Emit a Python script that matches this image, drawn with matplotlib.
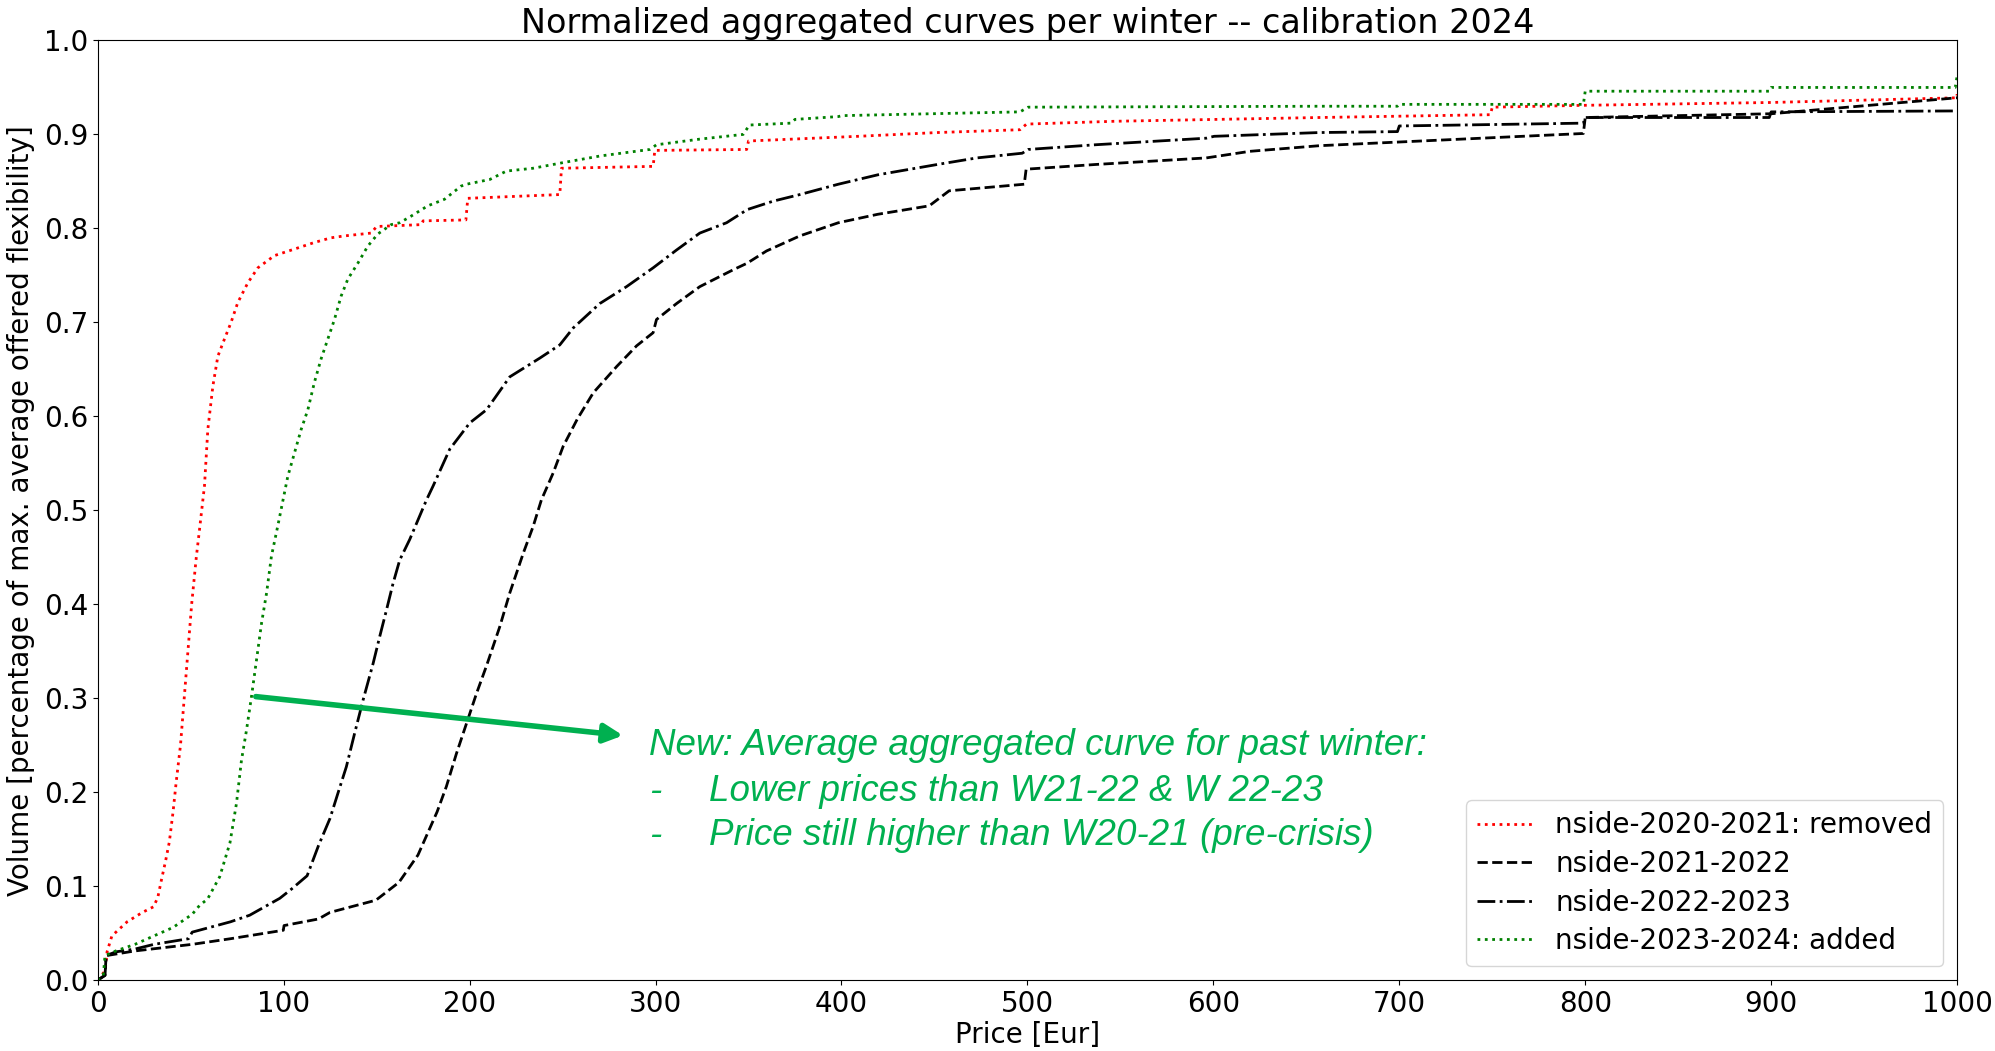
import matplotlib.pyplot as plt

# Aggregated curves (price in Eur, normalized volume)
price_2021 = [0, 2, 4, 5, 7.6, 15.8, 24, 30, 32.3, 34.4, 36.4, 38.5, 40.5, 42.2, 44.5, 46.5, 48.5, 50.5, 53,
              54.7, 57.4, 59.2, 61.9, 64.6, 68.1, 71.7, 75.3, 80.7, 86.1, 95, 105.8, 116.5, 125.5, 132.7, 147,
              150, 174, 175, 198, 199, 248.5, 249.4, 298.7, 299.6, 349, 350, 409, 451.5, 496, 499.5, 547, 657,
              749, 750, 800, 900, 1000, 1000]
vol_2021 = [0, 0.005, 0.01, 0.03, 0.047, 0.062, 0.072, 0.078, 0.088, 0.108, 0.126, 0.147, 0.179, 0.211, 0.25,
            0.30, 0.35, 0.40, 0.45, 0.479, 0.526, 0.586, 0.632, 0.664, 0.682, 0.700, 0.721, 0.742, 0.758, 0.771,
            0.778, 0.785, 0.790, 0.792, 0.795, 0.802, 0.804, 0.808, 0.809, 0.832, 0.836, 0.864, 0.866, 0.883,
            0.884, 0.893, 0.898, 0.902, 0.905, 0.911, 0.914, 0.918, 0.921, 0.929, 0.931, 0.934, 0.939, 0.943]

price_2122 = [0, 3.9, 4.5, 20, 50.8, 71.4, 99.8, 100.2, 118.7, 124.9, 149.6, 162, 172.2, 182.5, 187.5, 192.9,
              198.3, 203.7, 209, 216.2, 221.6, 228.8, 234.2, 238.6, 245, 250.3, 257.9, 266.5, 279.1, 289.8, 298.7,
              300.5, 311.3, 323.8, 341.8, 349.3, 359.7, 377.6, 398.3, 419.5, 447.2, 457.9, 498.3, 499.3, 536.6,
              596.2, 619.6, 657, 799, 800, 900, 1000]
vol_2122 = [0, 0.005, 0.026, 0.031, 0.038, 0.044, 0.053, 0.058, 0.065, 0.072, 0.085, 0.104, 0.133, 0.179, 0.206,
            0.241, 0.273, 0.305, 0.334, 0.376, 0.412, 0.454, 0.483, 0.511, 0.54, 0.568, 0.597, 0.625, 0.653, 0.675,
            0.689, 0.703, 0.720, 0.738, 0.756, 0.763, 0.776, 0.792, 0.806, 0.815, 0.824, 0.840, 0.847, 0.863,
            0.868, 0.875, 0.882, 0.888, 0.901, 0.918, 0.922, 0.939]

price_2223 = [0, 3.9, 4.5, 9.7, 20, 30.2, 48.8, 50.8, 71.4, 81.7, 97.9, 104.3, 112.6, 118.7, 124.9, 129.2, 133.7,
              138.2, 142.7, 148.1, 151.7, 155.3, 158.8, 162.4, 167.8, 176.8, 180.4, 189.3, 200.1, 209.1, 221.6,
              237.8, 248.5, 255.7, 270, 284.4, 298.7, 311.3, 323.8, 338.2, 349.3, 363.3, 377.6, 398.3, 419.5,
              451.5, 472.8, 497.2, 500.4, 536.6, 596.2, 600.4, 657, 699, 700, 799, 800, 899, 900, 1000]
vol_2223 = [0, 0.005, 0.026, 0.030, 0.033, 0.038, 0.044, 0.051, 0.062, 0.069, 0.087, 0.097, 0.111, 0.143, 0.172,
            0.199, 0.227, 0.263, 0.298, 0.337, 0.366, 0.394, 0.422, 0.447, 0.469, 0.511, 0.526, 0.565, 0.593,
            0.607, 0.642, 0.662, 0.676, 0.694, 0.720, 0.738, 0.758, 0.777, 0.795, 0.806, 0.820, 0.829, 0.836,
            0.847, 0.857, 0.868, 0.875, 0.880, 0.884, 0.889, 0.896, 0.898, 0.902, 0.903, 0.909, 0.912, 0.918,
            0.918, 0.924, 0.925]

price_2324 = [0, 3, 3.9, 9.7, 20, 30.2, 40.5, 50.8, 55, 59, 65.6, 71.1, 74.6, 77.3, 80, 82.7, 85.4, 88.1, 90.8,
              93.4, 97, 102.2, 109.4, 113, 116.5, 120.1, 123.7, 127.3, 130.9, 134.5, 139.9, 145.2, 150.6, 157.8,
              162.4, 168.5, 177.5, 186.5, 195.4, 198.3, 210.8, 219.8, 234.1, 250.3, 270, 296.9, 300.5, 323.8,
              347.1, 350.5, 372.7, 375, 398.3, 400.4, 496, 500.4, 657, 699, 700, 799, 800, 899, 900, 999, 1000]
vol_2324 = [0, 0.005, 0.026, 0.031, 0.038, 0.047, 0.056, 0.070, 0.080, 0.086, 0.110, 0.146, 0.188, 0.234, 0.266,
            0.302, 0.341, 0.380, 0.412, 0.451, 0.485, 0.536, 0.586, 0.607, 0.636, 0.661, 0.682, 0.703, 0.728,
            0.746, 0.763, 0.781, 0.794, 0.804, 0.806, 0.813, 0.824, 0.831, 0.845, 0.847, 0.852, 0.861, 0.864,
            0.870, 0.877, 0.884, 0.889, 0.895, 0.900, 0.910, 0.912, 0.916, 0.919, 0.920, 0.924, 0.929, 0.930,
            0.930, 0.932, 0.932, 0.946, 0.946, 0.950, 0.950, 0.962]

labels = ['nside-2020-2021: removed', 'nside-2021-2022', 'nside-2022-2023', 'nside-2023-2024: added']
note_lines = ['New: Average aggregated curve for past winter:',
              'Lower prices than W21-22 & W 22-23',
              'Price still higher than W20-21 (pre-crisis)']
ppt_green = '#00B050'

fig = plt.figure(figsize=(19.95, 10.51), dpi=100)
ax = fig.add_axes([0.049, 0.0675, 0.932, 0.894])

ax.plot(price_2021, vol_2021, ':', color='red', lw=2, label=labels[0])
ax.plot(price_2122, vol_2122, '--', color='black', lw=2, label=labels[1])
ax.plot(price_2223, vol_2223, '-.', color='black', lw=2, label=labels[2])
ax.plot(price_2324, vol_2324, ':', color='green', lw=2, label=labels[3])

ax.set_xlim(0, 1000)
ax.set_ylim(0, 1.0)
ax.set_xticks(range(0, 1001, 100))
ax.set_yticks([i / 10 for i in range(11)])
ax.tick_params(labelsize=20)
ax.set_xlabel('Price [Eur]', fontsize=20, labelpad=2)
ax.set_ylabel('Volume [percentage of max. average offered flexibility]', fontsize=20, labelpad=6)
ax.set_title('Normalized aggregated curves per winter -- calibration 2024', fontsize=24, pad=5)
ax.legend(loc='lower right', fontsize=20, labelspacing=0.38)

# green call-out added on top of the chart
ax.annotate('', xy=(284, 0.260), xytext=(83.5, 0.302),
            arrowprops=dict(arrowstyle='-|>', color=ppt_green, lw=4, mutation_scale=28))
note_font = dict(color=ppt_green, fontsize=26.5, style='italic', va='center',
                 family=['Liberation Sans Narrow', 'Liberation Sans'])
ax.text(296.4, 0.250, note_lines[0], **note_font)
ax.text(296.4, 0.201, '-', **note_font)
ax.text(329, 0.201, note_lines[1], **note_font)
ax.text(296.4, 0.154, '-', **note_font)
ax.text(329, 0.154, note_lines[2], **note_font)

fig.savefig('out.png', dpi=100)
